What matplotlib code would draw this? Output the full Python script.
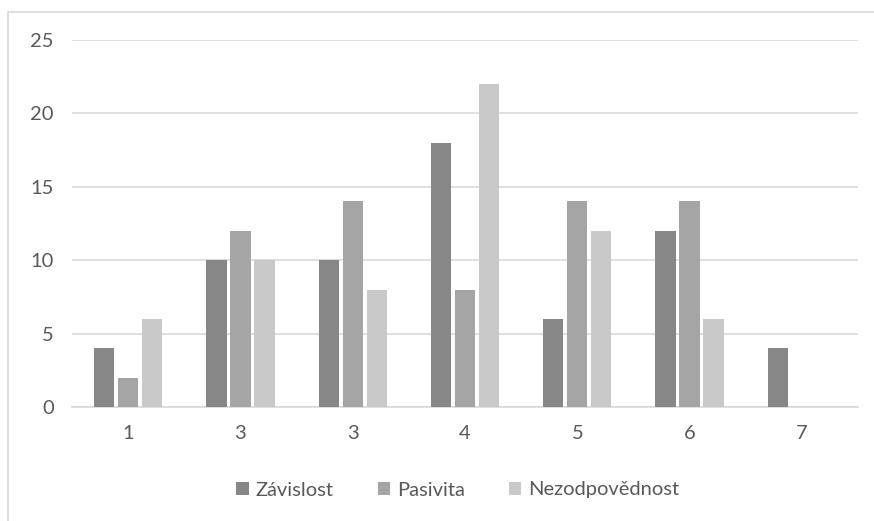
import matplotlib
matplotlib.use('Agg')
import matplotlib.pyplot as plt
import numpy as np
from matplotlib.patches import Rectangle

categories = ['1', '3', '3', '4', '5', '6', '7']
zavislost = [4, 10, 10, 18, 6, 12, 4]
pasivita = [2, 12, 14, 8, 14, 14, 0]
nezodpovednost = [6, 10, 8, 22, 12, 6, 0]

series = [('Závislost', zavislost, '#878787'),
          ('Pasivita', pasivita, '#a5a5a5'),
          ('Nezodpovědnost', nezodpovednost, '#c9c9c9')]

plt.rcParams['font.family'] = ['Lato', 'DejaVu Sans']
text_color = '#595959'

fig = plt.figure(figsize=(8.74, 5.21), dpi=100)
ax = fig.add_axes([72/874, 114/521, 786/874, 367/521])

x = np.arange(len(categories))
width = 0.18
step = 0.214
for i, (name, vals, col) in enumerate(series):
    ax.bar(x + (i - 1) * step, vals, width, color=col, label=name, zorder=3)

ax.set_xlim(-0.5, len(categories) - 0.5)
ax.set_ylim(0, 25)
ax.set_yticks(range(0, 26, 5))
ax.set_xticks(x)
ax.set_xticklabels(categories)
ax.grid(axis='y', color='#d9d9d9', linewidth=1.2, zorder=0)
for s in ['top', 'right', 'left']:
    ax.spines[s].set_visible(False)
ax.spines['bottom'].set_color('#d9d9d9')
ax.spines['bottom'].set_linewidth(1.2)
ax.tick_params(axis='both', length=0, labelsize=14.5, labelcolor=text_color)
ax.tick_params(axis='y', pad=13)
ax.tick_params(axis='x', pad=13)

fig.legend(loc='center', bbox_to_anchor=(458/874, 31/521), ncol=3, frameon=False,
           fontsize=14.5, labelcolor=text_color, handlelength=0.6, handleheight=0.6,
           columnspacing=2.2, handletextpad=0.35)

fig.patches.append(Rectangle((8/874, -0.05), 1.0, (521 - 12)/521 + 0.05,
                             transform=fig.transFigure, fill=False,
                             edgecolor='#d9d9d9', linewidth=1.2))

plt.savefig('out.png', dpi=100)
